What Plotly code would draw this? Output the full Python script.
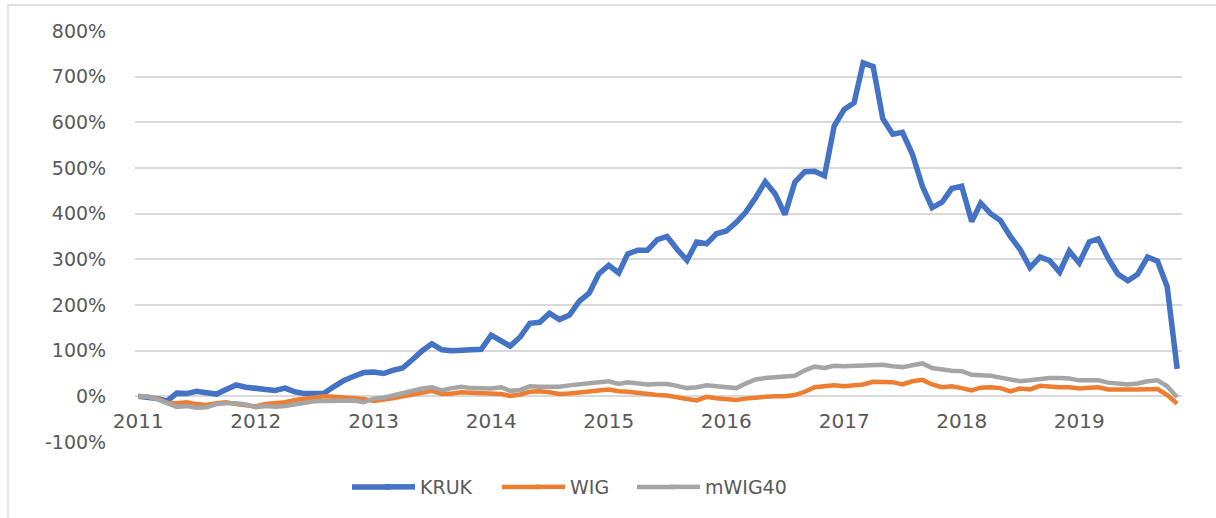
import pandas as pd
import plotly.graph_objects as go

# Monthly cumulative returns (%), Jan 2011 .. Nov 2019
kruk = [0, -2, -5, -10, 7, 6, 11, 8, 5, 15, 25, 20,
        16, 15, 13, 18, 10, 6, 6, 7, 22, 35, 44, 52,
        53, 50, 57, 62, 80, 100, 115, 102, 100, 100, 100, 103,
        134, 122, 110, 130, 160, 162, 182, 168, 178, 208, 226, 268,
        287, 270, 312, 320, 320, 343, 350, 322, 298, 338, 334, 356,
        362, 381, 403, 435, 470, 443, 398, 469, 492, 493, 483, 592,
        628, 643, 730, 722, 608, 574, 578, 530, 460, 413, 425, 455,
        460, 383, 423, 400, 385, 350, 322, 282, 305, 297, 272, 318,
        292, 338, 345, 302, 268, 253, 267, 305, 296, 240, 60]
wig = [0, -1, -5, -14, -15, -13, -17, -19, -15, -13, -17, -19,
       -22, -17, -15, -13, -8, -5, -3, 0, -1, -2, -4, -6,
       -10, -8, -4, 0, 3, 8, 12, 5, 6, 9, 8, 7,
       7, 5, 1, 4, 10, 11, 9, 5, 6, 9, 11, 13,
       15, 11, 10, 7, 4, 3, 2, -3, -6, -9, -1, -4,
       -7, -8, -5, -2, -1, 0, 0, 3, 10, 20, 22, 24,
       22, 23, 26, 32, 31, 31, 26, 33, 36, 26, 20, 22,
       18, 13, 19, 20, 18, 11, 17, 15, 23, 21, 20, 20,
       17, 19, 20, 15, 16, 15, 15, 16, 16, 3, -16]
mwig40 = [0, -1, -6, -14, -23, -21, -25, -24, -17, -15, -15, -18,
          -24, -21, -23, -21, -17, -14, -11, -10, -9, -8, -9, -13,
          -5, -3, 2, 8, 12, 17, 20, 13, 18, 21, 18, 17,
          17, 20, 12, 14, 22, 21, 20, 21, 24, 27, 29, 31,
          33, 27, 31, 28, 26, 27, 27, 23, 18, 20, 24, 22,
          19, 18, 28, 37, 40, 42, 43, 45, 57, 65, 62, 67,
          66, 67, 69, 70, 69, 66, 64, 68, 72, 62, 58, 56,
          55, 47, 46, 45, 41, 36, 33, 35, 38, 40, 40, 39,
          35, 36, 35, 30, 27, 26, 28, 33, 35, 22, -2]
months = pd.date_range("2011-01-01", periods=len(kruk), freq="MS")

y_tickvals = [-100, 0, 100, 200, 300, 400, 500, 600, 700, 800]
y_ticktext = ["-100%", "0%", "100%", "200%", "300%", "400%", "500%", "600%", "700%", "800%"]

series_names = ["KRUK", "WIG", "mWIG40"]
colors = ["#4472C4", "#ED7D31", "#A5A5A5"]
widths = [5.5, 4.5, 4.5]
legend_ids = ["legend", "legend2", "legend3"]
legend_text_x = [420, 570, 705]   # pixel x where each legend label starts

txt = "#595959"
L, R, T, B = 135, 1182, 31, 442
W, H = 1216, 518
pw, ph = R - L, B - T
leg_y = (B - 487) / ph

fig = go.Figure()
for name, vals, col, w, lg in zip(series_names, [kruk, wig, mwig40], colors, widths, legend_ids):
    fig.add_trace(go.Scatter(x=months, y=vals, mode="lines", name=name,
                             line=dict(color=col, width=w), legend=lg))

legends = {}
shapes = [dict(type="rect", xref="paper", yref="paper",
               x0=(8 - L) / pw, x1=(1222 - L) / pw,
               y0=(B - 530) / ph, y1=(B - 5) / ph,
               line=dict(color="#d9d9d9", width=1.5), layer="below")]
for lg, tx, col, w in zip(legend_ids, legend_text_x, colors, widths):
    origin = tx - 40
    legends[lg] = dict(orientation="h", x=(origin - L) / pw, xanchor="left",
                       y=leg_y, yanchor="middle",
                       font=dict(size=19, color=txt), bgcolor="rgba(0,0,0,0)")
    # lengthen the legend sample line to match the reference's long swatches
    shapes.append(dict(type="line", xref="paper", yref="paper",
                       x0=(origin - 28 - L) / pw, x1=(origin + 10 - L) / pw,
                       y0=leg_y, y1=leg_y,
                       line=dict(color=col, width=w)))

fig.update_layout(
    width=W, height=H,
    margin=dict(l=L, r=W - R, t=T, b=H - B, autoexpand=False),
    paper_bgcolor="white", plot_bgcolor="white",
    font=dict(family="DejaVu Sans", color=txt, size=19),
    showlegend=True,
    xaxis=dict(type="date", range=["2010-12-22", "2019-11-16"],
               tick0="2011-01-01", dtick="M12", tickformat="%Y",
               showgrid=False, zeroline=False, showline=False,
               anchor="free", position=1 / 9,
               ticks="outside", ticklen=7, tickcolor="rgba(0,0,0,0)",
               tickfont=dict(size=20, color=txt)),
    yaxis=dict(range=[-100, 800], tickmode="array",
               tickvals=y_tickvals, ticktext=y_ticktext,
               showgrid=True, gridcolor="#d9d9d9", gridwidth=1.5,
               zeroline=True, zerolinecolor="#d9d9d9", zerolinewidth=1.5,
               showline=False,
               ticks="outside", ticklen=24, tickcolor="rgba(0,0,0,0)",
               tickfont=dict(size=19, color=txt)),
    shapes=shapes,
    **legends,
)

fig.write_html("out.html", config={"displayModeBar": False},
               post_script="document.body.style.margin='0';document.body.style.overflow='hidden';")
